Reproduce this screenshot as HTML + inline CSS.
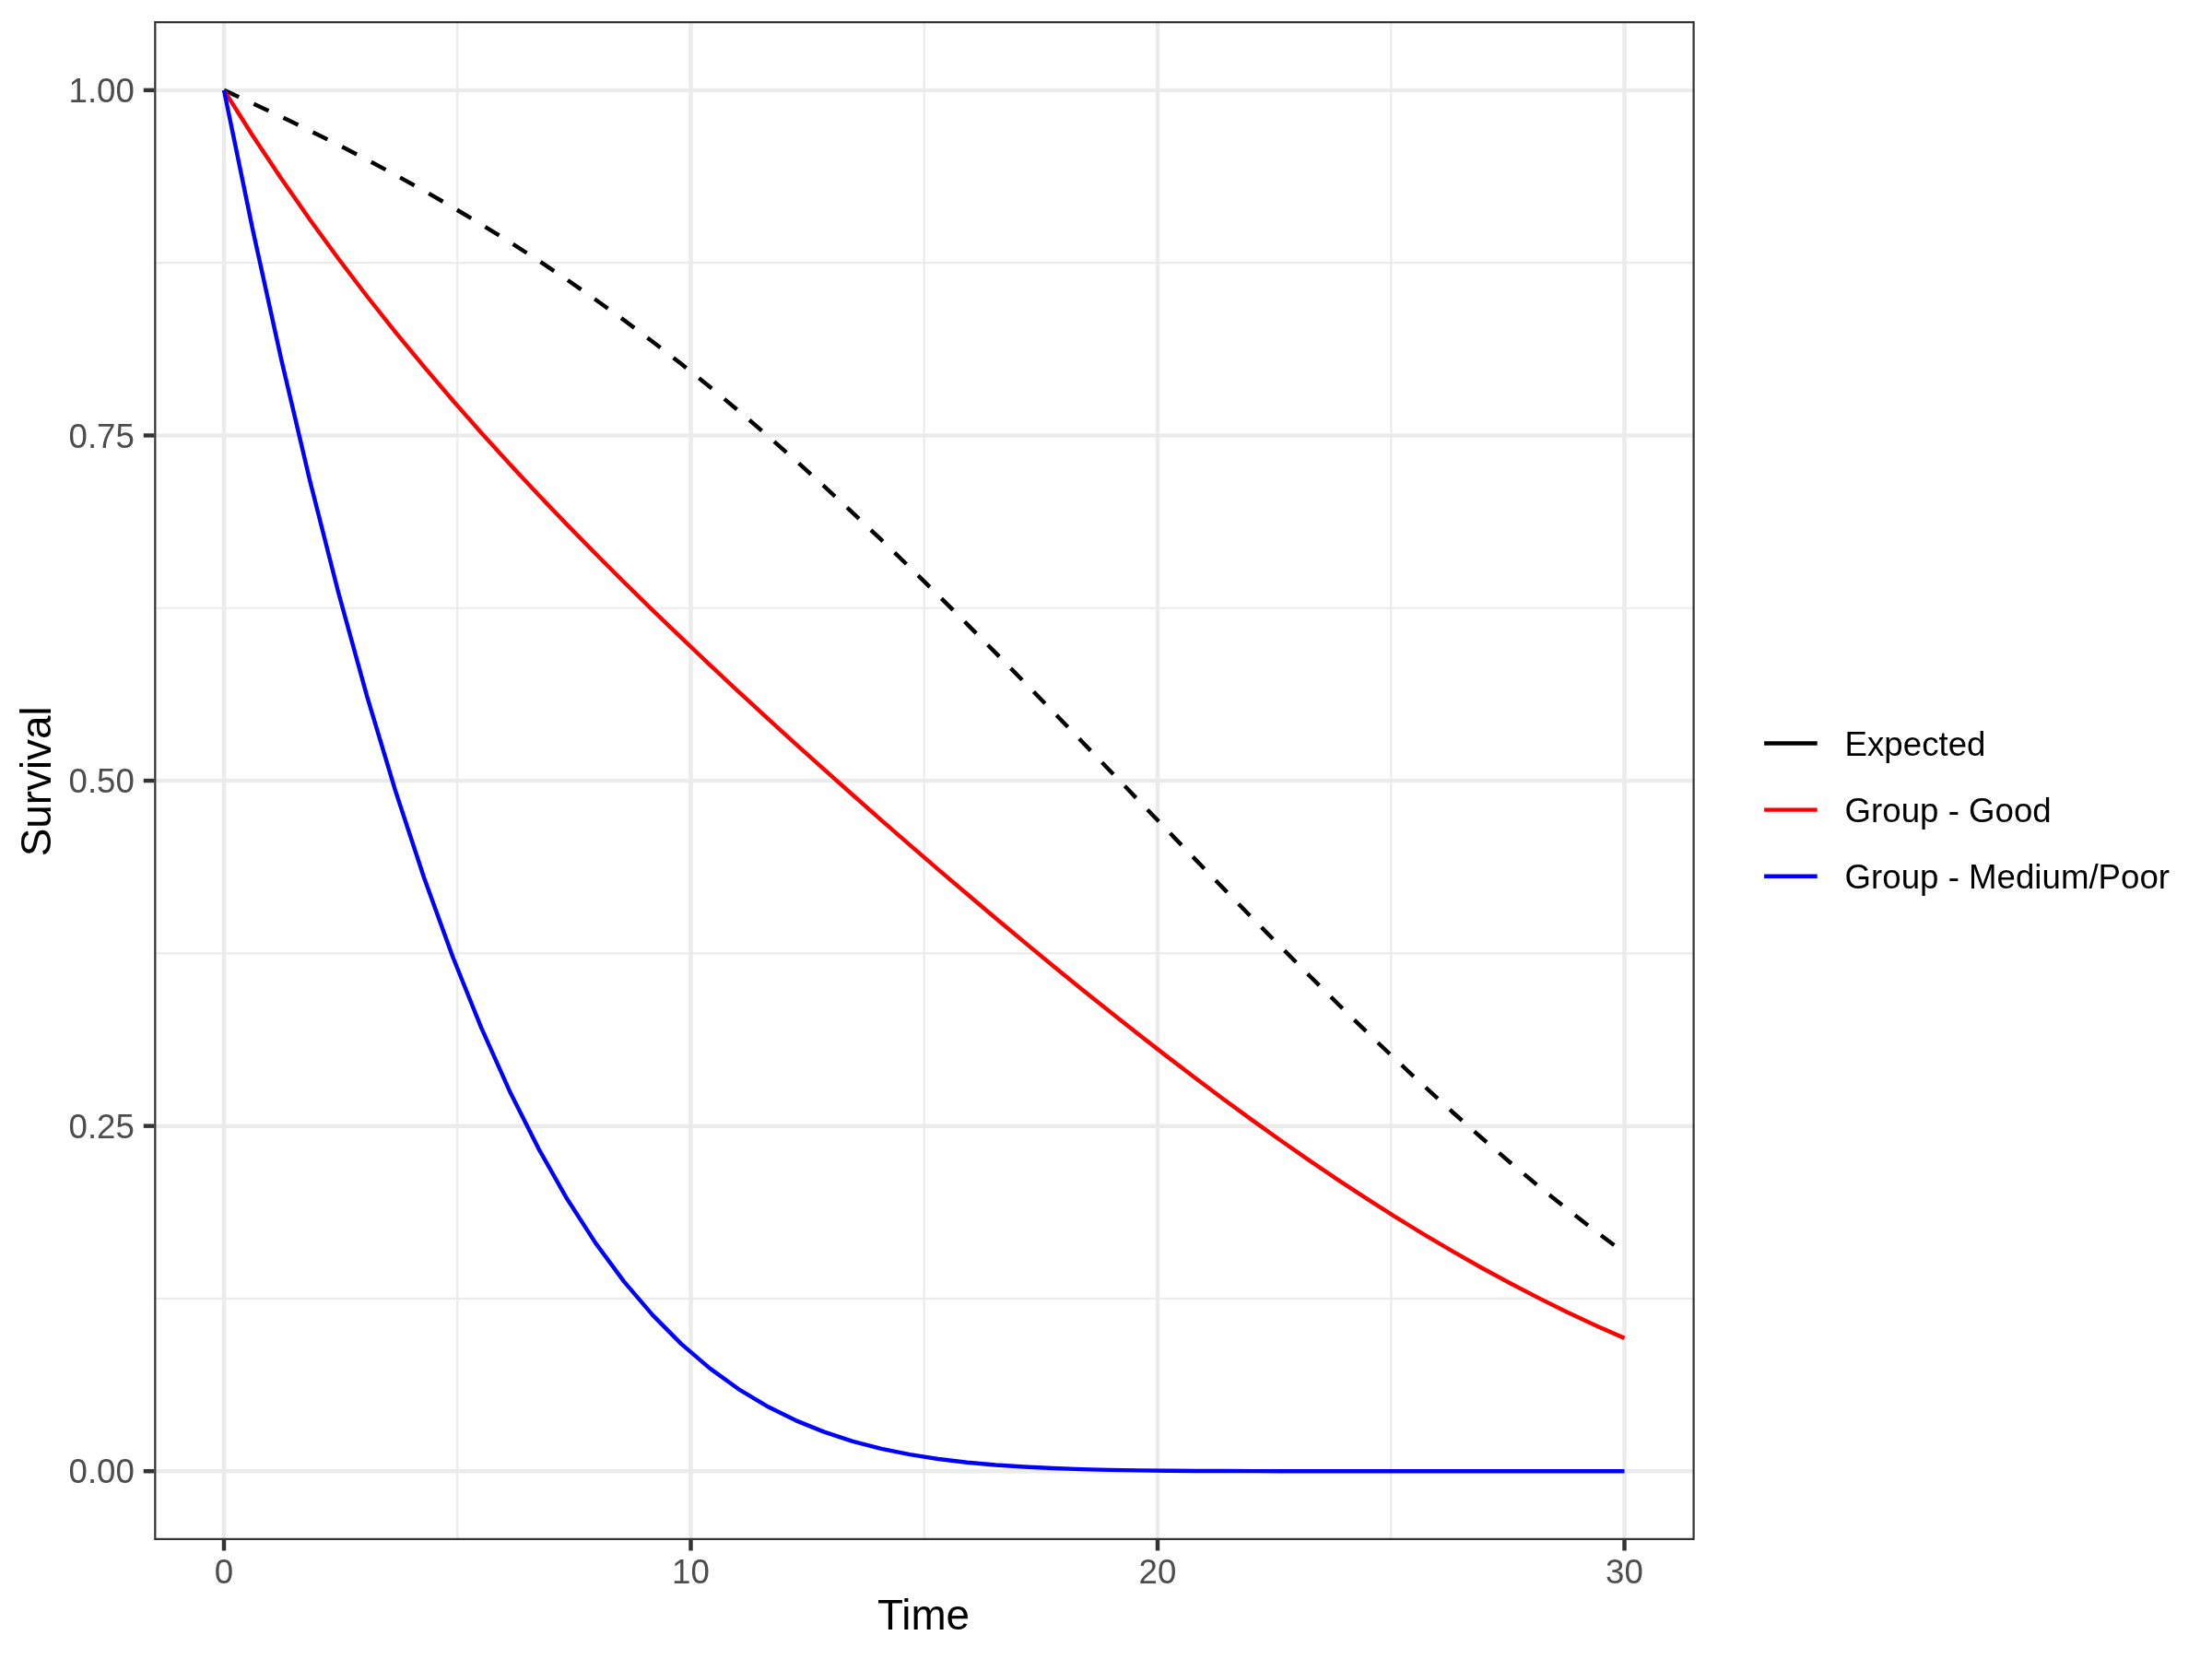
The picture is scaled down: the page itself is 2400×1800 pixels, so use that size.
<!DOCTYPE html>
<html><head><meta charset="utf-8"><style>
html,body{margin:0;padding:0;background:#fff;}
svg{display:block;will-change:transform;}
text{font-family:"Liberation Sans",sans-serif;}
</style></head><body>
<svg width="2400" height="1800" viewBox="0 0 2400 1800">
<rect x="0" y="0" width="2400" height="1800" fill="#ffffff"/>
<g stroke="#EBEBEB" stroke-width="2.22" fill="none">
<line x1="167.2" x2="1838.7" y1="1408.95" y2="1408.95"/><line x1="167.2" x2="1838.7" y1="1034.35" y2="1034.35"/><line x1="167.2" x2="1838.7" y1="659.75" y2="659.75"/><line x1="167.2" x2="1838.7" y1="285.15" y2="285.15"/><line y1="23.0" y2="1671.0" x1="496.25" x2="496.25"/><line y1="23.0" y2="1671.0" x1="1002.75" x2="1002.75"/><line y1="23.0" y2="1671.0" x1="1509.25" x2="1509.25"/>
</g>
<g stroke="#EBEBEB" stroke-width="4.45" fill="none">
<line x1="167.2" x2="1838.7" y1="1596.25" y2="1596.25"/><line x1="167.2" x2="1838.7" y1="1221.65" y2="1221.65"/><line x1="167.2" x2="1838.7" y1="847.05" y2="847.05"/><line x1="167.2" x2="1838.7" y1="472.45" y2="472.45"/><line x1="167.2" x2="1838.7" y1="97.85" y2="97.85"/><line y1="23.0" y2="1671.0" x1="243.00" x2="243.00"/><line y1="23.0" y2="1671.0" x1="749.50" x2="749.50"/><line y1="23.0" y2="1671.0" x1="1256.00" x2="1256.00"/><line y1="23.0" y2="1671.0" x1="1762.50" x2="1762.50"/>
</g>
<g fill="none" stroke-width="4.45" stroke-linejoin="round" stroke-linecap="butt">
<path d="M243.00,97.85 L274.01,112.04 L305.02,126.64 L336.03,141.67 L367.04,157.17 L398.05,173.20 L429.06,189.79 L460.07,206.99 L491.08,224.83 L522.09,243.36 L553.10,262.61 L584.11,282.61 L615.12,303.40 L646.13,324.99 L677.14,347.41 L708.15,370.69 L739.16,394.82 L770.17,419.80 L801.18,445.59 L832.19,472.18 L863.20,499.52 L894.21,527.59 L925.22,556.33 L956.23,585.71 L987.24,615.67 L1018.26,646.15 L1049.27,677.08 L1080.28,708.40 L1111.29,740.04 L1142.30,771.92 L1173.31,803.98 L1204.32,836.17 L1235.33,868.43 L1266.34,900.67 L1297.35,932.84 L1328.36,964.85 L1359.37,996.65 L1390.38,1028.15 L1421.39,1059.28 L1452.40,1089.97 L1483.41,1120.16 L1514.42,1149.76 L1545.43,1178.73 L1576.44,1206.99 L1607.45,1234.50 L1638.46,1261.21 L1669.47,1287.07 L1700.48,1312.06 L1731.49,1336.13 L1762.50,1359.27" stroke="#000000" stroke-dasharray="17.78 17.78"/>
<path d="M243.00,97.85 L274.01,146.94 L305.02,193.60 L336.03,238.06 L367.04,280.54 L398.05,321.24 L429.06,360.32 L460.07,397.95 L491.08,434.29 L522.09,469.46 L553.10,503.59 L584.11,536.78 L615.12,569.15 L646.13,600.77 L677.14,631.73 L708.15,662.10 L739.16,691.94 L770.17,721.31 L801.18,750.26 L832.19,778.82 L863.20,807.04 L894.21,834.93 L925.22,862.52 L956.23,889.82 L987.24,916.85 L1018.26,943.59 L1049.27,970.05 L1080.28,996.23 L1111.29,1022.11 L1142.30,1047.68 L1173.31,1072.91 L1204.32,1097.79 L1235.33,1122.29 L1266.34,1146.38 L1297.35,1170.02 L1328.36,1193.20 L1359.37,1215.88 L1390.38,1238.03 L1421.39,1259.60 L1452.40,1280.58 L1483.41,1300.94 L1514.42,1320.63 L1545.43,1339.64 L1576.44,1357.94 L1607.45,1375.51 L1638.46,1392.33 L1669.47,1408.39 L1700.48,1423.67 L1731.49,1438.17 L1762.50,1451.88" stroke="#FF0000"/>
<path d="M243.00,97.85 L274.01,248.30 L305.02,389.28 L336.03,520.69 L367.04,642.55 L398.05,754.96 L429.06,858.12 L460.07,952.28 L491.08,1037.77 L522.09,1114.92 L553.10,1184.15 L584.11,1245.87 L615.12,1300.54 L646.13,1348.61 L677.14,1390.58 L708.15,1426.92 L739.16,1458.12 L770.17,1484.67 L801.18,1507.04 L832.19,1525.71 L863.20,1541.11 L894.21,1553.67 L925.22,1563.80 L956.23,1571.85 L987.24,1578.16 L1018.26,1583.04 L1049.27,1586.76 L1080.28,1589.54 L1111.29,1591.59 L1142.30,1593.08 L1173.31,1594.13 L1204.32,1594.86 L1235.33,1595.36 L1266.34,1595.69 L1297.35,1595.91 L1328.36,1596.05 L1359.37,1596.13 L1390.38,1596.18 L1421.39,1596.21 L1452.40,1596.23 L1483.41,1596.24 L1514.42,1596.24 L1545.43,1596.25 L1576.44,1596.25 L1607.45,1596.25 L1638.46,1596.25 L1669.47,1596.25 L1700.48,1596.25 L1731.49,1596.25 L1762.50,1596.25" stroke="#0000FF"/>
</g>
<rect x="168.31" y="24.11" width="1669.28" height="1645.78" fill="none" stroke="#333333" stroke-width="2.22"/>
<g stroke="#333333" stroke-width="4.45">
<line x1="155.74" x2="167.2" y1="1596.25" y2="1596.25"/><line x1="155.74" x2="167.2" y1="1221.65" y2="1221.65"/><line x1="155.74" x2="167.2" y1="847.05" y2="847.05"/><line x1="155.74" x2="167.2" y1="472.45" y2="472.45"/><line x1="155.74" x2="167.2" y1="97.85" y2="97.85"/><line y1="1671.0" y2="1682.46" x1="243.00" x2="243.00"/><line y1="1671.0" y2="1682.46" x1="749.50" x2="749.50"/><line y1="1671.0" y2="1682.46" x1="1256.00" x2="1256.00"/><line y1="1671.0" y2="1682.46" x1="1762.50" x2="1762.50"/>
</g>
<g fill="#4D4D4D" font-size="36.67">
<text x="145.9" y="1609.30" text-anchor="end">0.00</text><text x="145.9" y="1234.70" text-anchor="end">0.25</text><text x="145.9" y="860.10" text-anchor="end">0.50</text><text x="145.9" y="485.50" text-anchor="end">0.75</text><text x="145.9" y="110.90" text-anchor="end">1.00</text>
<text x="243.00" y="1717.9" text-anchor="middle">0</text><text x="749.50" y="1717.9" text-anchor="middle">10</text><text x="1256.00" y="1717.9" text-anchor="middle">20</text><text x="1762.50" y="1717.9" text-anchor="middle">30</text>
</g>
<text x="1002.0" y="1767.9" font-size="45.83" fill="#000" text-anchor="middle">Time</text>
<text transform="translate(55,847.8) rotate(-90)" x="0" y="0" font-size="45.83" fill="#000" text-anchor="middle">Survival</text>
<g stroke-width="4.45" stroke-linecap="butt">
<line x1="1914.1" x2="1971.7" y1="806.4" y2="806.4" stroke="#000000"/>
<line x1="1914.1" x2="1971.7" y1="878.6" y2="878.6" stroke="#FF0000"/>
<line x1="1914.1" x2="1971.7" y1="950.8" y2="950.8" stroke="#0000FF"/>
</g>
<g fill="#000" font-size="36.67">
<text x="2001.6" y="819.8">Expected</text>
<text x="2001.6" y="892.0">Group - Good</text>
<text x="2001.6" y="964.2">Group - Medium/Poor</text>
</g>
</svg>
</body></html>
